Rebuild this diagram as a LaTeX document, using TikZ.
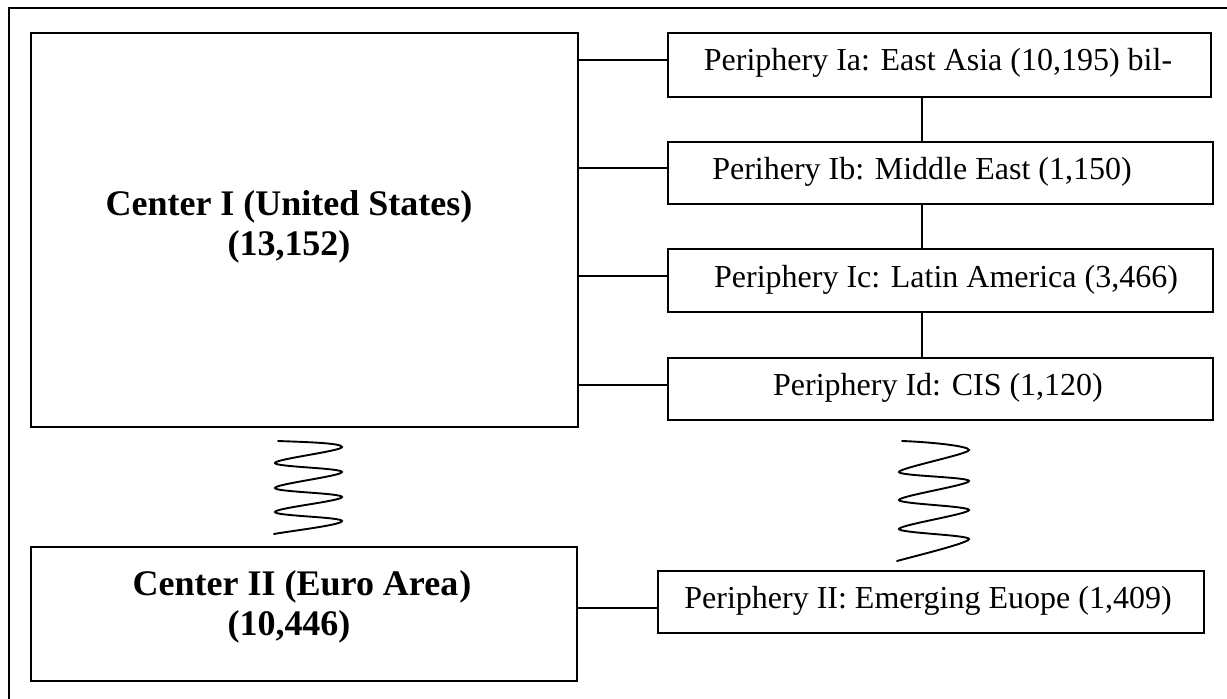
\documentclass[tikz,border=0pt]{standalone}
\usepackage{fontspec}
\setmainfont{Liberation Serif}
\begin{document}
\begin{tikzpicture}[x=1pt,y=-1pt, line width=1.9pt,
  box/.style={draw, line width=1.9pt, rectangle, inner sep=0pt, anchor=north west},
  ptext/.style={font=\fontsize{32}{38}\selectfont, inner sep=0pt},
  ctext/.style={font=\fontsize{36}{40}\selectfont\bfseries, align=center, inner sep=0pt},
  conn/.style={line width=1.9pt},
  coil/.style={line width=1.9pt, line cap=round}]
\useasboundingbox (0,0) rectangle (1227,699);
% outer frame (only top and left edges visible)
\draw[line width=1.9pt] (9,699) -- (9,8) -- (1227,8);

% boxes
\node[box, minimum width=547pt, minimum height=394pt] (c1) at (30,32) {};
\node[box, minimum width=546pt, minimum height=134pt] (c2) at (30,546) {};
\node[box, minimum width=543pt, minimum height=64pt] (pa) at (667,32) {};
\node[box, minimum width=545pt, minimum height=62pt] (pb) at (667,141) {};
\node[box, minimum width=545pt, minimum height=63pt] (pc) at (667,248) {};
\node[box, minimum width=545pt, minimum height=62pt] (pd) at (667,357) {};
\node[box, minimum width=546pt, minimum height=62pt] (p2) at (657,570) {};

% texts
\node[ctext] (t1) at (289,227) {Center I (United States)\\(13,152)};
\node[ctext] (t2) at (302,607) {Center II (Euro Area\kern1pt)\\(10,446)\hspace*{26pt}};
\node[ptext] (ta) at (938,63) {Periphery Ia: East Asia (10,195) bil-};
\node[ptext] (tb) at (922,172) {Perihery Ib: Middle East (1,150)};
\node[ptext] (tc) at (946,280) {Periphery Ic: Latin America (3,466)};
\node[ptext] (td) at (938,388) {Periphery Id: CIS (1,120)};
\node[ptext] (t2b) at (928,601) {Periphery II: Emerging Euope (1,409)};

% connectors
\draw[conn] (c1.east |- 0,60) -- (pa.west |- 0,60);
\draw[conn] (c1.east |- 0,168) -- (pb.west |- 0,168);
\draw[conn] (c1.east |- 0,276) -- (pc.west |- 0,276);
\draw[conn] (c1.east |- 0,385) -- (pd.west |- 0,385);
\draw[conn] (pa.south -| 922,0) -- (pb.north -| 922,0);
\draw[conn] (pb.south -| 922,0) -- (pc.north -| 922,0);
\draw[conn] (pc.south -| 922,0) -- (pd.north -| 922,0);
\draw[conn] (c2.east |- 0,608) -- (p2.west |- 0,608);

% left coil
\draw[coil] (278,441) .. controls (305,442) and (342,443) .. (342,447)
  .. controls (342,451) and (275,459) .. (275,463)
  .. controls (275,467) and (342,468) .. (342,472)
  .. controls (342,476) and (275,484) .. (275,488)
  .. controls (275,492) and (342,493) .. (342,497)
  .. controls (342,501) and (275,508) .. (275,512)
  .. controls (275,516) and (342,517) .. (342,521)
  .. controls (342,525) and (290,531) .. (274,534);

% right coil
\draw[coil] (902,441) .. controls (930,442) and (969,446) .. (969,450)
  .. controls (969,454) and (899,468) .. (899,472)
  .. controls (899,476) and (969,477) .. (969,481)
  .. controls (969,485) and (899,496) .. (899,500)
  .. controls (899,504) and (969,506) .. (969,510)
  .. controls (969,514) and (899,525) .. (899,529)
  .. controls (899,533) and (969,535) .. (969,539)
  .. controls (969,543) and (915,556) .. (897,561);
\end{tikzpicture}
\end{document}
